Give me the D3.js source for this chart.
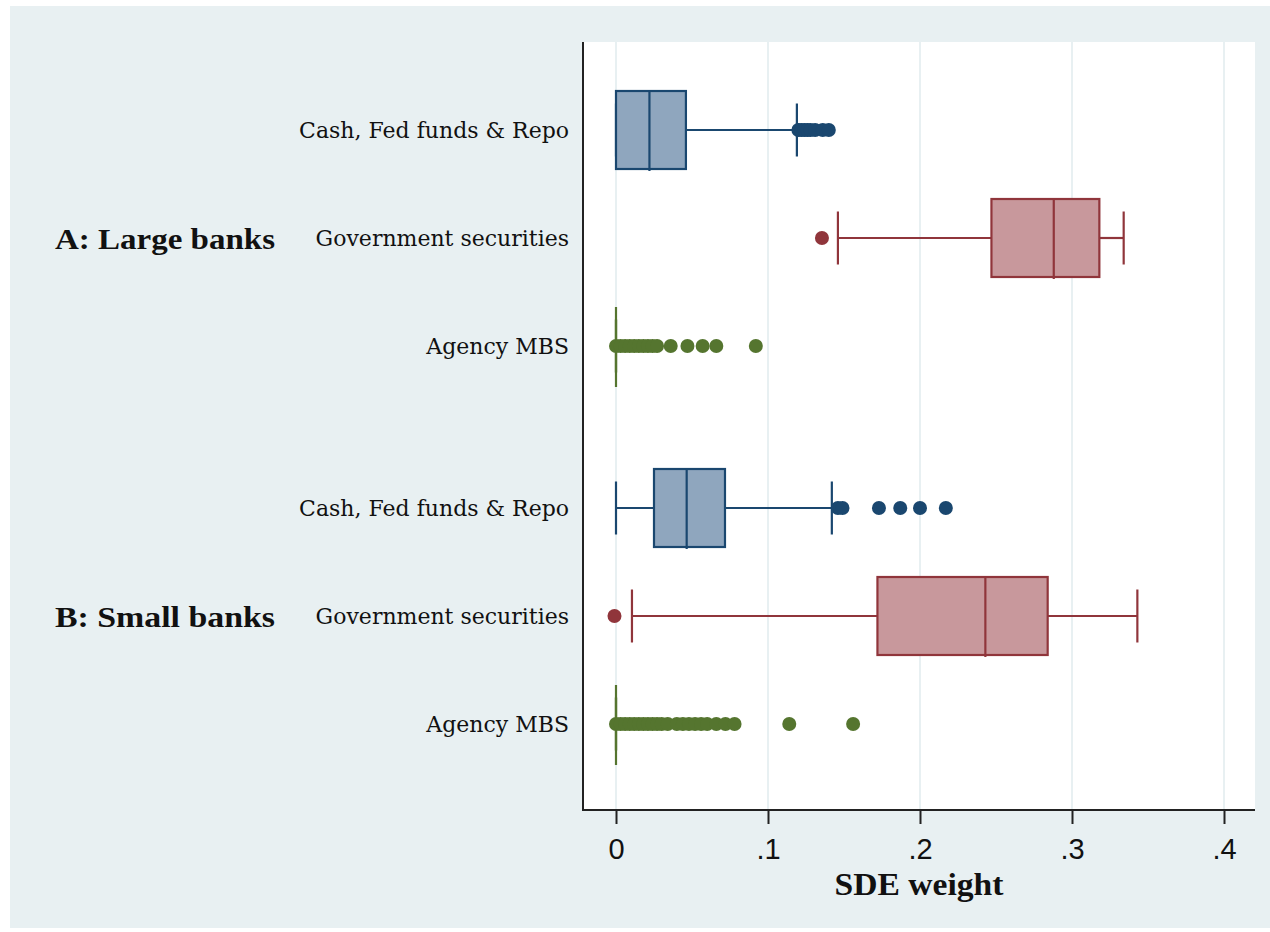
<html>
<head>
<title>SDE weight box plots</title>
<script src="https://d3js.org/d3.v7.min.js" charset="utf-8"></script>
<style>
body { margin: 0; background: white; }
</style>
</head>
<body>
<script>
// chart data
var groups = ["A: Large banks", "B: Small banks"];
var categories = ["Cash, Fed funds & Repo", "Government securities", "Agency MBS"];
var rowGroup = [0, 0, 0, 1, 1, 1];
var rowCat = [0, 1, 2, 0, 1, 2];
var rowPos = [0, 1, 2, 3.5, 4.5, 5.5];

var whiskerLow  = [0,     0.146, 0, 0,     0.0105, 0];
var q1          = [0,     0.247, 0, 0.025, 0.172,  0];
var median      = [0.022, 0.288, 0, 0.0465, 0.243, 0];
var q3          = [0.046, 0.318, 0, 0.0717, 0.284, 0];
var whiskerHigh = [0.119, 0.334, 0, 0.142, 0.343,  0];

var outliers = [
  [0.120, 0.122, 0.124, 0.126, 0.128, 0.131, 0.136, 0.140],
  [0.1355],
  [0, 0.003, 0.006, 0.009, 0.012, 0.015, 0.018, 0.021, 0.024, 0.027, 0.036, 0.047, 0.057, 0.066, 0.092],
  [0.146, 0.149, 0.173, 0.187, 0.200, 0.217],
  [-0.001],
  [0, 0.003, 0.006, 0.009, 0.012, 0.015, 0.018, 0.021, 0.024, 0.027, 0.030, 0.034, 0.040, 0.044, 0.048, 0.052, 0.056, 0.060, 0.066, 0.072, 0.078, 0.114, 0.156]
];

var xTicks = [0, 0.1, 0.2, 0.3, 0.4];

var lineColors = ["#1a476f", "#90353b", "#55752f"];
var fillColors = ["#8fa6be", "#c8989c", "#55752f"];

var width = 1270, height = 932;
var svg = d3.select("body").append("svg")
  .attr("width", width)
  .attr("height", height);

// outer graph region
svg.append("rect")
  .attr("x", 10).attr("y", 6)
  .attr("width", 1260).attr("height", 922)
  .attr("fill", "#e8f0f2");

var plotL = 583, plotR = 1255, plotT = 42, plotB = 810;

svg.append("rect")
  .attr("x", plotL).attr("y", plotT)
  .attr("width", plotR - plotL).attr("height", plotB - plotT)
  .attr("fill", "white");

var x = d3.scaleLinear().domain([0, 0.4]).range([616, 1224]);
var y = d3.scaleLinear().domain([0, 5.5]).range([130, 724]);

// grid
svg.append("g").selectAll("line")
  .data(xTicks)
  .enter()
  .append("line")
  .attr("x1", function(d) { return x(d); })
  .attr("x2", function(d) { return x(d); })
  .attr("y1", plotT).attr("y2", plotB)
  .attr("stroke", "#e1ebee")
  .attr("stroke-width", 1.5);

// boxes
var boxH = 78, capH = 53;
var rows = d3.range(rowPos.length);
var g = svg.append("g");

rows.forEach(function(i) {
  var cy = y(rowPos[i]);
  var lc = lineColors[rowCat[i]];
  var fc = fillColors[rowCat[i]];
  // whiskers
  g.append("line")
    .attr("x1", x(whiskerLow[i])).attr("x2", x(q1[i]))
    .attr("y1", cy).attr("y2", cy)
    .attr("stroke", lc).attr("stroke-width", 2.2);
  g.append("line")
    .attr("x1", x(q3[i])).attr("x2", x(whiskerHigh[i]))
    .attr("y1", cy).attr("y2", cy)
    .attr("stroke", lc).attr("stroke-width", 2.2);
  [whiskerLow[i], whiskerHigh[i]].forEach(function(v) {
    g.append("line")
      .attr("x1", x(v)).attr("x2", x(v))
      .attr("y1", cy - capH / 2).attr("y2", cy + capH / 2)
      .attr("stroke", lc).attr("stroke-width", 2.2);
  });
  // box
  g.append("rect")
    .attr("x", x(q1[i]))
    .attr("y", cy - boxH / 2)
    .attr("width", x(q3[i]) - x(q1[i]))
    .attr("height", boxH)
    .attr("fill", fc)
    .attr("stroke", lc)
    .attr("stroke-width", 2.2);
  g.append("line")
    .attr("x1", x(median[i])).attr("x2", x(median[i]))
    .attr("y1", cy - boxH / 2).attr("y2", cy + boxH / 2 + 2)
    .attr("stroke", lc).attr("stroke-width", 2.2);
  // outside values
  g.selectAll(null)
    .data(outliers[i])
    .enter()
    .append("circle")
    .attr("cx", function(d) { return x(d); })
    .attr("cy", cy)
    .attr("r", 7)
    .attr("fill", lc);
});

// axes lines
svg.append("line")
  .attr("x1", plotL).attr("x2", plotL)
  .attr("y1", plotT).attr("y2", plotB + 1)
  .attr("stroke", "#222").attr("stroke-width", 2);

var xAxis = d3.axisBottom(x)
  .tickValues(xTicks)
  .tickSize(14)
  .tickPadding(14)
  .tickFormat(function(d) { return d === 0 ? "0" : d3.format(".1f")(d).replace(/^0/, ""); });

var ax = svg.append("g")
  .attr("transform", "translate(0," + plotB + ")")
  .call(xAxis);
ax.select(".domain").remove();
ax.selectAll(".tick line").attr("stroke", "#222").attr("stroke-width", 2);
ax.selectAll(".tick text")
  .attr("font-family", "Liberation Sans, Arial, sans-serif")
  .attr("font-size", 29)
  .attr("fill", "#111");

svg.append("line")
  .attr("x1", plotL - 1).attr("x2", plotR)
  .attr("y1", plotB).attr("y2", plotB)
  .attr("stroke", "#222").attr("stroke-width", 2);

svg.append("text")
  .attr("x", (plotL + plotR) / 2)
  .attr("y", 895)
  .attr("text-anchor", "middle")
  .attr("font-family", "Liberation Serif, Times New Roman, serif")
  .attr("font-weight", "bold")
  .attr("font-size", 31)
  .attr("textLength", 169)
  .attr("lengthAdjust", "spacingAndGlyphs")
  .attr("fill", "#111")
  .text("SDE weight");

// category labels
svg.append("g").selectAll("text")
  .data(rows)
  .enter()
  .append("text")
  .attr("x", 569)
  .attr("y", function(i) { return y(rowPos[i]); })
  .attr("dy", "0.35em")
  .attr("text-anchor", "end")
  .attr("font-family", "DejaVu Serif, serif")
  .attr("font-size", 22)
  .attr("fill", "#111")
  .text(function(i) { return categories[rowCat[i]]; });

// group labels
svg.append("g").selectAll("text")
  .data(groups)
  .enter()
  .append("text")
  .attr("x", 55)
  .attr("y", function(d, k) { return y(rowPos[k * 3 + 1]); })
  .attr("dy", "0.35em")
  .attr("font-family", "Liberation Serif, Times New Roman, serif")
  .attr("font-weight", "bold")
  .attr("font-size", 30)
  .attr("textLength", 220)
  .attr("lengthAdjust", "spacingAndGlyphs")
  .attr("fill", "#111")
  .text(function(d) { return d; });
</script>
</body>
</html>
